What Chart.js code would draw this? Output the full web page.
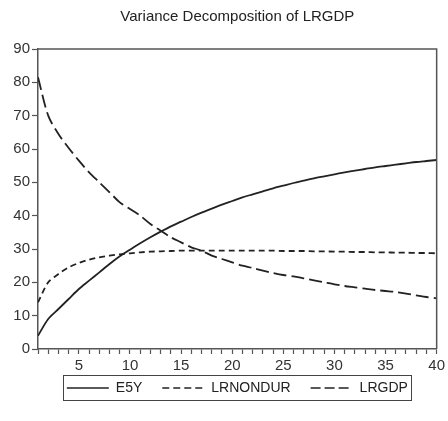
<!DOCTYPE html>
<html lang="en">
<head>
    <meta charset="UTF-8">
    <title>Variance Decomposition of LRGDP</title>
    <script src="https://cdn.jsdelivr.net/npm/chart.js"></script>
    <style>
        body {
            margin: 0;
            padding: 0;
            background-color: #fff;
        }
        .wrap {
            width: 448px;
            height: 421px;
        }
    </style>
</head>
<body>
    <div class="wrap">
        <canvas id="vdChart" width="448" height="421"></canvas>
    </div>

    <script>
        // periods (x categories)
        var periods = [1, 2, 3, 4, 5, 6, 7, 8, 9, 10,
                       11, 12, 13, 14, 15, 16, 17, 18, 19, 20,
                       21, 22, 23, 24, 25, 26, 27, 28, 29, 30,
                       31, 32, 33, 34, 35, 36, 37, 38, 39, 40];
        var xTickLabels = [5, 10, 15, 20, 25, 30, 35, 40];
        var yTickValues = [0, 10, 20, 30, 40, 50, 60, 70, 80, 90];

        // series values
        var e5y = [4, 9, 12, 15, 18, 20.5, 23, 25.5, 27.8, 29.8,
                   31.7, 33.5, 35.2, 36.8, 38.2, 39.6, 40.9, 42.1, 43.3, 44.4,
                   45.5, 46.4, 47.3, 48.2, 49, 49.8, 50.5, 51.2, 51.8, 52.4,
                   53, 53.5, 54, 54.5, 54.9, 55.3, 55.7, 56.1, 56.4, 56.7];
        var lrnondur = [14, 20, 22.5, 24.5, 25.8, 26.8, 27.5, 28, 28.4, 28.7,
                        29, 29.2, 29.3, 29.4, 29.5, 29.5, 29.5, 29.5, 29.5, 29.5,
                        29.5, 29.5, 29.5, 29.5, 29.4, 29.4, 29.4, 29.3, 29.3, 29.2,
                        29.2, 29.1, 29.1, 29, 29, 28.9, 28.9, 28.8, 28.8, 28.7];
        var lrgdp = [81.5, 70, 64.5, 60.3, 56.5, 53, 50, 47, 44, 42,
                     40, 37.5, 35.5, 33.5, 32, 30.5, 29.5, 28, 27, 26,
                     25, 24.3, 23.5, 22.8, 22.2, 21.8, 21.2, 20.6, 20, 19.4,
                     18.9, 18.5, 18.1, 17.7, 17.4, 17.1, 16.6, 16.1, 15.6, 15.2];

        function pts(values) {
            return periods.map(function(p, i) { return { x: p, y: values[i] }; });
        }

        var inkColor = '#222';
        var axisColor = '#555';
        var fontFamily = '"Liberation Sans", Arial, sans-serif';
        // dash patterns used for the short legend samples
        var legendDash = { 'E5Y': [], 'LRNONDUR': [7, 4], 'LRGDP': [10, 4] };

        // draws the top/right frame of the plot and a box round the legend
        var framePlugin = {
            id: 'frame',
            afterLayout: function(chart) {
                // pull the legend up a little, closer to the axis labels
                chart.legend.top -= 14;
                chart.legend.bottom -= 14;
            },
            afterDraw: function(chart) {
                var ctx = chart.ctx;
                var a = chart.chartArea;
                ctx.save();
                ctx.strokeStyle = axisColor;
                ctx.lineWidth = 1.5;
                ctx.beginPath();
                ctx.moveTo(a.left, a.top);
                ctx.lineTo(a.right, a.top);
                ctx.lineTo(a.right, a.bottom);
                ctx.stroke();

                var boxes = chart.legend.legendHitBoxes;
                if (boxes && boxes.length) {
                    var minX = Infinity, maxX = -Infinity, top = Infinity, bottom = -Infinity;
                    boxes.forEach(function(b) {
                        minX = Math.min(minX, b.left);
                        maxX = Math.max(maxX, b.left + b.width);
                        top = Math.min(top, b.top);
                        bottom = Math.max(bottom, b.top + b.height);
                    });
                    ctx.strokeStyle = '#444';
                    ctx.lineWidth = 1;
                    ctx.strokeRect(Math.round(minX - 4) + 0.5, Math.round(top - 6) + 0.5,
                                   Math.round(maxX - minX + 7), Math.round(bottom - top + 11));
                }
                ctx.restore();
            }
        };

        var ctx = document.getElementById('vdChart').getContext('2d');
        var vdChart = new Chart(ctx, {
            type: 'line',
            data: {
                datasets: [{
                    label: 'E5Y',
                    data: pts(e5y),
                    borderColor: inkColor,
                    borderWidth: 1.8,
                    pointRadius: 0,
                    tension: 0.3
                }, {
                    label: 'LRNONDUR',
                    data: pts(lrnondur),
                    borderColor: inkColor,
                    borderWidth: 1.8,
                    borderDash: [6, 4],
                    pointRadius: 0,
                    tension: 0.3
                }, {
                    label: 'LRGDP',
                    data: pts(lrgdp),
                    borderColor: inkColor,
                    borderWidth: 1.8,
                    borderDash: [13, 5],
                    pointRadius: 0,
                    tension: 0.3
                }]
            },
            options: {
                responsive: false,
                animation: false,
                layout: { padding: { left: 0, right: 10, top: 0, bottom: 2 } },
                plugins: {
                    title: {
                        display: true,
                        fullSize: false,
                        text: 'Variance Decomposition of LRGDP',
                        color: '#222',
                        font: { family: fontFamily, size: 15, weight: 'normal' },
                        padding: { top: 8, bottom: 23 }
                    },
                    legend: {
                        position: 'bottom',
                        fullSize: false,
                        labels: {
                            color: '#222',
                            font: { family: fontFamily, size: 14 },
                            usePointStyle: true,
                            pointStyle: 'line',
                            pointStyleWidth: 42,
                            boxHeight: 14,
                            padding: 20,
                            generateLabels: function(chart) {
                                var items = Chart.defaults.plugins.legend.labels.generateLabels(chart);
                                items.forEach(function(it) {
                                    it.lineDash = legendDash[it.text] || [];
                                    it.lineWidth = 1.5;
                                    it.strokeStyle = inkColor;
                                });
                                return items;
                            }
                        }
                    },
                    tooltip: { enabled: false }
                },
                scales: {
                    x: {
                        type: 'linear',
                        min: 1,
                        max: 40,
                        afterBuildTicks: function(scale) {
                            scale.ticks = periods.map(function(v) { return { value: v }; });
                        },
                        afterFit: function(scale) { scale.height = 26; },
                        ticks: {
                            autoSkip: false,
                            maxRotation: 0,
                            color: '#333',
                            padding: 3,
                            font: { family: fontFamily, size: 15 },
                            callback: function(v) {
                                return xTickLabels.indexOf(v) !== -1 ? String(v) : '';
                            }
                        },
                        grid: {
                            drawOnChartArea: false,
                            drawTicks: true,
                            tickLength: 5,
                            color: axisColor,
                            tickWidth: 1.2
                        },
                        border: { display: true, color: axisColor, width: 1.5 }
                    },
                    y: {
                        min: 0,
                        max: 90,
                        afterBuildTicks: function(scale) {
                            scale.ticks = yTickValues.map(function(v) { return { value: v }; });
                        },
                        afterFit: function(scale) { scale.width = 38; },
                        ticks: {
                            color: '#333',
                            padding: 2,
                            font: { family: fontFamily, size: 15 }
                        },
                        grid: {
                            drawOnChartArea: false,
                            drawTicks: true,
                            tickLength: 6,
                            color: axisColor,
                            tickWidth: 1.2
                        },
                        border: { display: true, color: axisColor, width: 1.5 }
                    }
                }
            },
            plugins: [framePlugin]
        });
    </script>
</body>
</html>
